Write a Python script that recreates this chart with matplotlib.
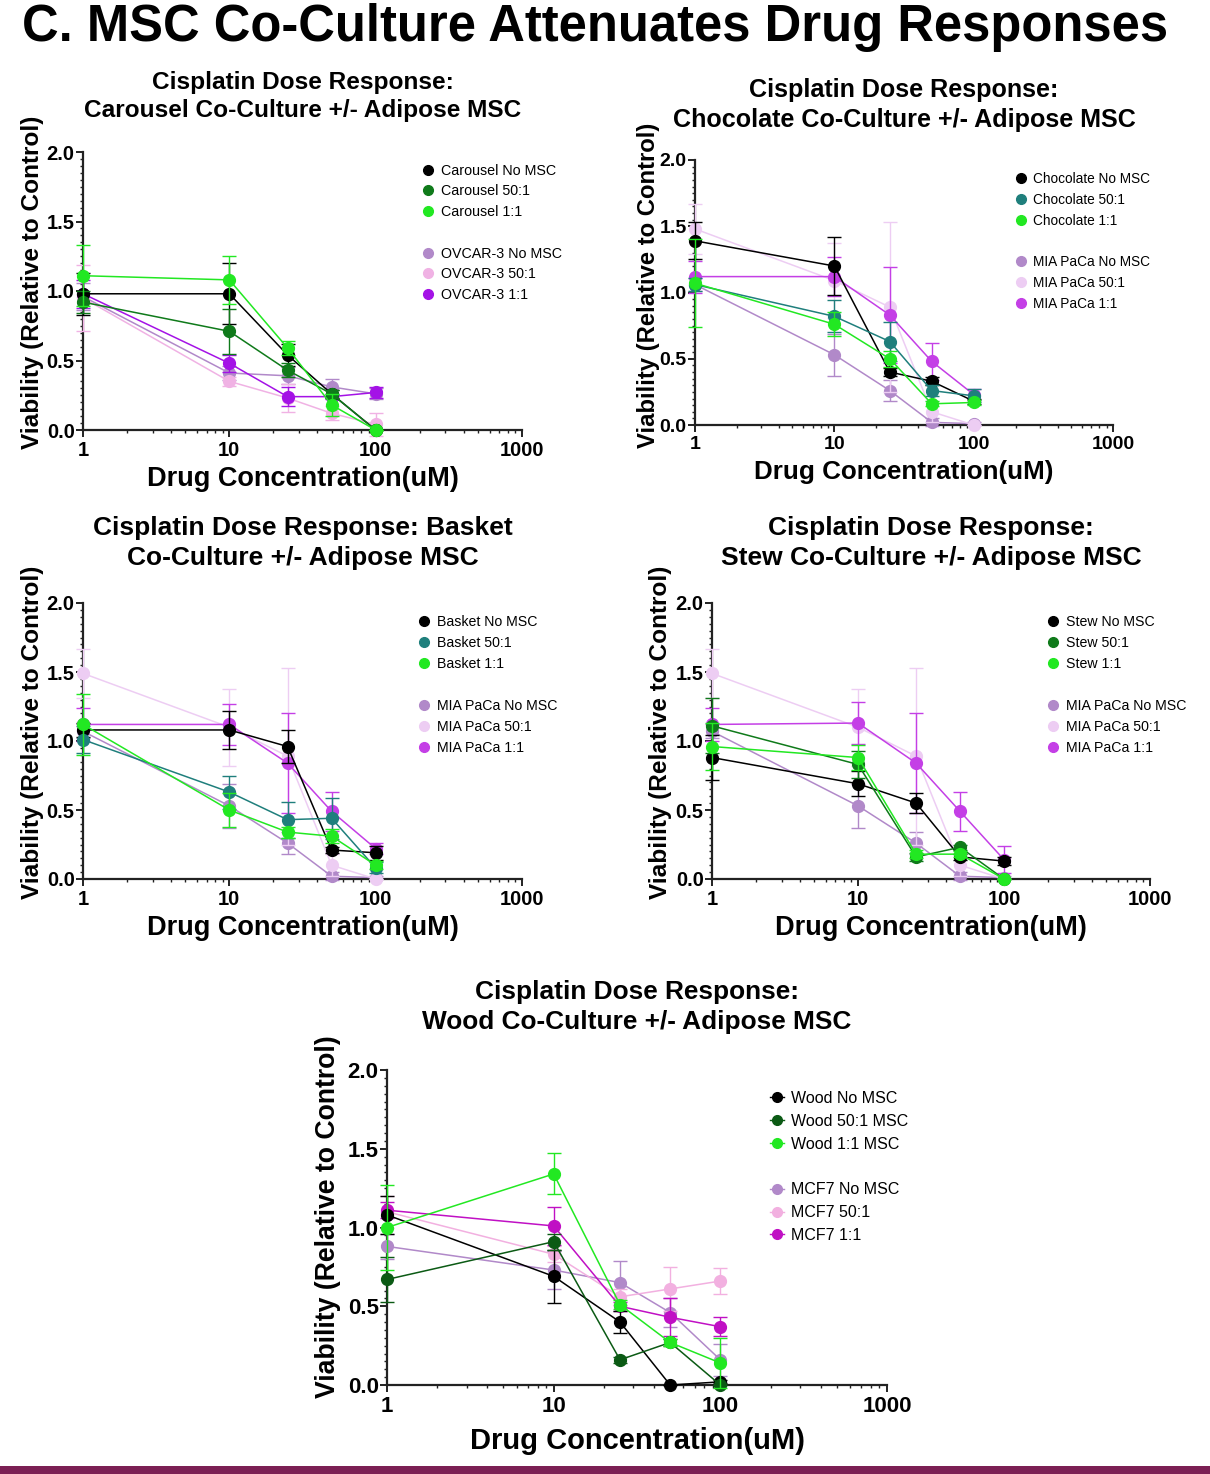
import numpy as np
import matplotlib
matplotlib.use("Agg")
import matplotlib.pyplot as plt
from matplotlib.lines import Line2D
from matplotlib.patches import Rectangle
from matplotlib.ticker import LogLocator, MultipleLocator, NullFormatter

plt.rcParams["font.family"] = ["Liberation Sans", "DejaVu Sans"]

W, H = 1210, 1474
DOSE = [1, 10, 25, 50, 100]

# ---- data (viability relative to control, mean +/- error) ----
carousel_labels = ["Carousel No MSC", "Carousel 50:1", "Carousel 1:1",
                   "OVCAR-3 No MSC", "OVCAR-3 50:1", "OVCAR-3 1:1"]
carousel_mean = [[0.98, 0.98, 0.54, 0.26, 0.00],
                 [0.92, 0.71, 0.43, 0.26, 0.00],
                 [1.11, 1.08, 0.59, 0.18, 0.00],
                 [0.96, 0.41, 0.39, 0.31, 0.26],
                 [0.95, 0.35, 0.23, 0.12, 0.04],
                 [0.98, 0.48, 0.24, 0.24, 0.27]]
carousel_err = [[0.15, 0.22, 0.08, 0.03, 0.00],
                [0.08, 0.16, 0.05, 0.03, 0.00],
                [0.22, 0.17, 0.05, 0.08, 0.00],
                [0.10, 0.05, 0.06, 0.06, 0.04],
                [0.24, 0.03, 0.10, 0.05, 0.08],
                [0.10, 0.06, 0.07, 0.02, 0.04]]

chocolate_labels = ["Chocolate No MSC", "Chocolate 50:1", "Chocolate 1:1",
                    "MIA PaCa No MSC", "MIA PaCa 50:1", "MIA PaCa 1:1"]
chocolate_mean = [[1.39, 1.20, 0.40, 0.33, 0.18],
                  [1.06, 0.82, 0.63, 0.26, 0.22],
                  [1.07, 0.76, 0.50, 0.16, 0.17],
                  [1.06, 0.53, 0.26, 0.02, 0.01],
                  [1.48, 1.09, 0.89, 0.10, 0.00],
                  [1.12, 1.12, 0.83, 0.48, 0.23]]
chocolate_err = [[0.14, 0.22, 0.03, 0.03, 0.02],
                 [0.05, 0.12, 0.15, 0.04, 0.05],
                 [0.33, 0.09, 0.06, 0.02, 0.02],
                 [0.05, 0.16, 0.08, 0.03, 0.01],
                 [0.19, 0.28, 0.64, 0.08, 0.00],
                 [0.12, 0.15, 0.36, 0.14, 0.04]]

basket_labels = ["Basket No MSC", "Basket 50:1", "Basket 1:1",
                 "MIA PaCa No MSC", "MIA PaCa 50:1", "MIA PaCa 1:1"]
basket_mean = [[1.08, 1.08, 0.96, 0.21, 0.19],
               [1.01, 0.63, 0.43, 0.44, 0.08],
               [1.12, 0.50, 0.34, 0.31, 0.10],
               [1.07, 0.53, 0.26, 0.02, 0.01],
               [1.49, 1.10, 0.89, 0.10, 0.00],
               [1.12, 1.12, 0.84, 0.49, 0.22]]
basket_err = [[0.05, 0.14, 0.12, 0.02, 0.05],
              [0.10, 0.12, 0.13, 0.15, 0.04],
              [0.22, 0.12, 0.04, 0.05, 0.03],
              [0.05, 0.16, 0.08, 0.03, 0.01],
              [0.18, 0.28, 0.64, 0.08, 0.00],
              [0.12, 0.15, 0.36, 0.14, 0.04]]

stew_labels = ["Stew No MSC", "Stew 50:1", "Stew 1:1",
               "MIA PaCa No MSC", "MIA PaCa 50:1", "MIA PaCa 1:1"]
stew_mean = [[0.88, 0.69, 0.55, 0.16, 0.13],
             [1.11, 0.83, 0.16, 0.23, 0.00],
             [0.96, 0.88, 0.18, 0.18, 0.00],
             [1.07, 0.53, 0.26, 0.02, 0.01],
             [1.49, 1.10, 0.89, 0.10, 0.00],
             [1.12, 1.13, 0.84, 0.49, 0.14]]
stew_err = [[0.16, 0.09, 0.07, 0.02, 0.03],
            [0.20, 0.10, 0.03, 0.02, 0.00],
            [0.17, 0.09, 0.03, 0.02, 0.00],
            [0.05, 0.16, 0.08, 0.03, 0.01],
            [0.18, 0.28, 0.64, 0.08, 0.00],
            [0.12, 0.15, 0.36, 0.14, 0.10]]

wood_labels = ["Wood No MSC", "Wood 50:1 MSC", "Wood 1:1 MSC",
               "MCF7 No MSC", "MCF7 50:1", "MCF7 1:1"]
wood_mean = [[1.08, 0.69, 0.40, 0.00, 0.02],
             [0.67, 0.91, 0.16, 0.27, 0.00],
             [1.00, 1.34, 0.51, 0.27, 0.14],
             [0.88, 0.73, 0.65, 0.46, 0.16],
             [1.10, 0.83, 0.56, 0.61, 0.66],
             [1.11, 1.01, 0.50, 0.43, 0.37]]
wood_err = [[0.12, 0.17, 0.07, 0.00, 0.01],
            [0.14, 0.05, 0.02, 0.02, 0.00],
            [0.27, 0.13, 0.03, 0.02, 0.16],
            [0.08, 0.12, 0.14, 0.09, 0.10],
            [0.10, 0.05, 0.05, 0.14, 0.08],
            [0.05, 0.12, 0.03, 0.12, 0.06]]

# ---- colours ----
BLACK, DKGREEN, TEAL, GREEN = "#000000", "#0f7a1a", "#1f7f7c", "#22e822"
WOODGREEN = "#0b5a14"
LPURPLE = "#b189c9"
carousel_colors = [BLACK, DKGREEN, GREEN, LPURPLE, "#f0b2e4", "#a412e6"]
mia_colors = [LPURPLE, "#edcdf3", "#c43fe6"]
chocolate_colors = [BLACK, TEAL, GREEN] + mia_colors
basket_colors = [BLACK, TEAL, GREEN] + mia_colors
stew_colors = [BLACK, DKGREEN, GREEN] + mia_colors
wood_colors = [BLACK, WOODGREEN, GREEN, LPURPLE, "#f2b0e0", "#c010c4"]

# ---- layout (pixels in the 1210x1474 canvas) ----
panels = [
    dict(labels=carousel_labels, mean=carousel_mean, err=carousel_err, colors=carousel_colors,
         box=(83, 152, 522, 430), title=("Cisplatin Dose Response:", "Carousel Co-Culture +/- Adipose MSC"),
         title_y=(82, 110), title_fs=17.6, xlab_fs=19.5, ylab_fs=17.6, xlab_y=479, ylab=(33, 282),
         tick_fs=14.5, leg=(428, 170), leg_fs=10.3, leg_dy=20.3, leg_line=False),
    dict(labels=chocolate_labels, mean=chocolate_mean, err=chocolate_err, colors=chocolate_colors,
         box=(695, 160, 1113, 425), title=("Cisplatin Dose Response:", "Chocolate Co-Culture +/- Adipose MSC"),
         title_y=(90, 120), title_fs=18.1, xlab_fs=18.7, ylab_fs=17.2, xlab_y=472, ylab=(648, 285),
         tick_fs=14.0, leg=(1021, 178), leg_fs=9.8, leg_dy=19.7, leg_line=False),
    dict(labels=basket_labels, mean=basket_mean, err=basket_err, colors=basket_colors,
         box=(83, 603, 522, 879), title=("Cisplatin Dose Response: Basket", "Co-Culture +/- Adipose MSC"),
         title_y=(528, 558), title_fs=19.0, xlab_fs=19.5, ylab_fs=17.6, xlab_y=928, ylab=(33, 732),
         tick_fs=14.5, leg=(424, 621), leg_fs=10.2, leg_dy=20.5, leg_line=False),
    dict(labels=stew_labels, mean=stew_mean, err=stew_err, colors=stew_colors,
         box=(712, 603, 1150, 879), title=("Cisplatin Dose Response:", "Stew Co-Culture +/- Adipose MSC"),
         title_y=(528, 558), title_fs=19.0, xlab_fs=19.5, ylab_fs=17.6, xlab_y=928, ylab=(660, 732),
         tick_fs=14.5, leg=(1053, 621), leg_fs=10.2, leg_dy=20.5, leg_line=False),
    dict(labels=wood_labels, mean=wood_mean, err=wood_err, colors=wood_colors,
         box=(387, 1070, 887, 1385), title=("Cisplatin Dose Response:", "Wood Co-Culture +/- Adipose MSC"),
         title_y=(992, 1022), title_fs=18.9, xlab_fs=21.0, ylab_fs=19.2, xlab_y=1441, ylab=(328, 1217),
         tick_fs=16.0, leg=(777, 1098), leg_fs=11.5, leg_dy=23.0, leg_line=True),
]


def fx(px):
    return px / W


def fy(py):
    return 1 - py / H


fig = plt.figure(figsize=(W / 100, H / 100), dpi=100)
fig.text(fx(22), fy(28), "C. MSC Co-Culture Attenuates Drug Responses",
         ha="left", va="center", fontsize=36.5, fontweight="bold")
fig.add_artist(Rectangle((0, 0), 1, 8 / H, transform=fig.transFigure,
                         facecolor="#7b1f54", edgecolor="none"))

for p in panels:
    l, t, r, b = p["box"]
    ax = fig.add_axes([fx(l), fy(b), (r - l) / W, (b - t) / H])

    # cell line alone first, co-cultures on top
    order = [3, 4, 5, 0, 1, 2]
    for z, i in enumerate(order):
        eb = ax.errorbar(DOSE, p["mean"][i], yerr=p["err"][i], color=p["colors"][i],
                         marker="o", ms=8.5, mec=p["colors"][i], lw=1.1,
                         elinewidth=1.0, capsize=5, capthick=1.0, zorder=3 + z)
        for art in eb.get_children():
            art.set_clip_on(False)

    ax.set_xscale("log")
    ax.set_xlim(1, 1000)
    ax.set_ylim(0, 2)
    ax.set_xticks([1, 10, 100, 1000])
    ax.set_xticklabels(["1", "10", "100", "1000"])
    ax.xaxis.set_minor_locator(LogLocator(base=10, subs=np.arange(2, 10)))
    ax.xaxis.set_minor_formatter(NullFormatter())
    ax.set_yticks([0, 0.5, 1.0, 1.5, 2.0])
    ax.set_yticklabels(["0.0", "0.5", "1.0", "1.5", "2.0"])
    ax.yaxis.set_minor_locator(MultipleLocator(0.05))
    for s in ("top", "right"):
        ax.spines[s].set_visible(False)
    for s in ("left", "bottom"):
        ax.spines[s].set_linewidth(1.6)
        ax.spines[s].set_color("#222222")
    ax.tick_params(which="major", length=5, width=1.4, labelsize=p["tick_fs"], colors="#222222")
    ax.tick_params(axis="x", which="major", pad=3)
    ax.tick_params(axis="y", which="major", pad=1)
    ax.tick_params(which="minor", length=2.5, width=1.0, colors="#222222")
    for lab in ax.get_xticklabels() + ax.get_yticklabels():
        lab.set_fontweight("bold")
        lab.set_color("black")

    # titles and axis labels
    cx = fx((l + r) / 2)
    for line, yy in zip(p["title"], p["title_y"]):
        fig.text(cx, fy(yy), line, ha="center", va="center",
                 fontsize=p["title_fs"], fontweight="bold")
    fig.text(cx, fy(p["xlab_y"]), "Drug Concentration(uM)", ha="center", va="center",
             fontsize=p["xlab_fs"], fontweight="bold")
    fig.text(fx(p["ylab"][0]), fy(p["ylab"][1]), "Viability (Relative to Control)",
             ha="center", va="center", rotation=90, fontsize=p["ylab_fs"], fontweight="bold")

    # legend: two groups of three separated by a blank row
    handles = []
    for i in range(6):
        handles.append(Line2D([], [], color=p["colors"][i], marker="o", ms=7,
                              mec=p["colors"][i],
                              linestyle="-" if p["leg_line"] else "none", lw=1.0))
    blank = Line2D([], [], linestyle="none", marker=None)
    hs = handles[:3] + [blank] + handles[3:]
    ls = p["labels"][:3] + [" "] + p["labels"][3:]
    fs_px = p["leg_fs"] * 100 / 72
    hl = 0.9
    row_h = 0.95 * fs_px
    lsp = (p["leg_dy"] - row_h) / fs_px
    dx, dy = p["leg"]
    ax.legend(hs, ls, loc="upper left", frameon=False, fontsize=p["leg_fs"],
              handlelength=hl, handletextpad=0.45, labelspacing=lsp,
              borderpad=0, borderaxespad=0,
              bbox_to_anchor=(fx(dx - hl * fs_px / 2), fy(dy - 0.44 * fs_px)),
              bbox_transform=fig.transFigure)

fig.savefig("out.png", dpi=100)
